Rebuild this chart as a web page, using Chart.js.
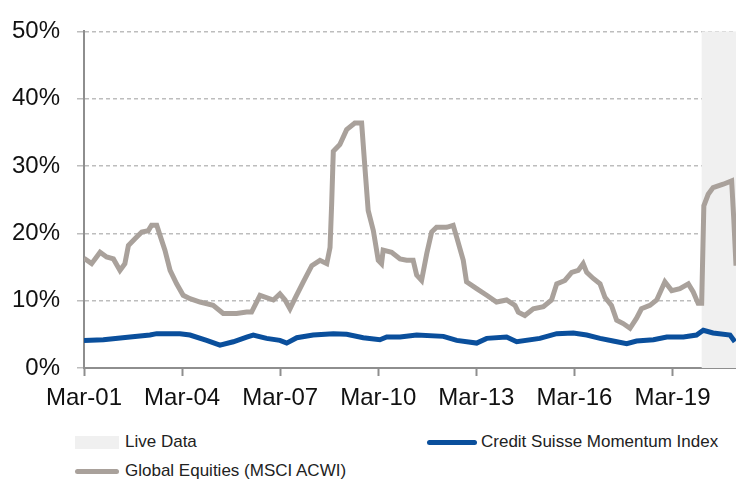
<!DOCTYPE html>
<html>
<head>
<meta charset="utf-8">
<script src="https://cdn.jsdelivr.net/npm/chart.js@4/dist/chart.umd.min.js"></script>
<style>
body{margin:0;background:#fff;font-family:"Liberation Sans",Arial,sans-serif}
#wrap{position:relative;width:736px;height:479px;overflow:hidden}
#box{position:absolute;left:0;top:0;width:736px;height:425px}
.leg{position:absolute;font-size:17px;color:#222;white-space:nowrap;line-height:20px}
.sym{position:absolute;left:0}
.leg span.t{position:absolute;left:50px;top:0}
</style>
</head>
<body>
<div id="wrap">
<div id="box"><canvas id="chart"></canvas></div>
<div class="leg" style="left:75px;top:432px"><div class="sym" style="top:4px;width:44px;height:13px;background:#f0f0f0"></div><span class="t">Live Data</span></div>
<div class="leg" style="left:427px;top:432px"><div class="sym" style="top:8px;width:50px;height:5px;border-radius:3px;background:#0a4f9c"></div><span class="t" style="left:54px">Credit Suisse Momentum Index</span></div>
<div class="leg" style="left:75px;top:461px"><div class="sym" style="top:8px;width:44px;height:5px;border-radius:3px;background:#a9a19b"></div><span class="t">Global Equities (MSCI ACWI)</span></div>
</div>
<script>
// x values are months since Mar-2001
let tickLabels=["Mar-01","Mar-04","Mar-07","Mar-10","Mar-13","Mar-16","Mar-19"]
let liveStart=226.7
let xMax=239.3

let momLabel="Credit Suisse Momentum Index"
let momMonths=[0,7.1,16.9,24.2,26.7,35.2,38.9,45.0,49.9,54.8,59.7,62.1,67.0,71.9,74.4,78.1,84.1,91.5,96.4,102.5,108.6,111.1,116.0,122.1,131.9,136.8,144.1,147.8,155.1,158.8,167.3,173.5,179.6,184.5,189.4,194.2,199.2,202.8,209.0,213.9,220.0,224.8,227.3,230.9,237.1,238.9]
let momValues=[4.1,4.2,4.6,4.9,5.1,5.1,4.9,4.1,3.4,3.9,4.6,4.9,4.4,4.1,3.7,4.5,4.9,5.1,5.0,4.5,4.2,4.6,4.6,4.9,4.7,4.1,3.7,4.4,4.6,3.9,4.4,5.1,5.2,4.9,4.4,4.0,3.6,4.0,4.2,4.6,4.6,4.9,5.6,5.2,4.9,3.9]

let eqLabel="Global Equities (MSCI ACWI)"
let eqMonths=[0,2.8,5.9,8.3,10.8,13.2,15.0,16.3,18.7,21.2,23.6,24.8,26.7,27.9,29.7,31.6,34.0,36.4,38.9,42.6,47.4,51.1,56.0,59.7,61.5,64.6,69.5,71.9,73.8,75.6,77.4,80.5,83.6,86.6,89.1,90.3,90.9,91.5,93.9,96.4,99.4,101.9,103.1,104.3,106.2,108.0,109.2,109.8,112.9,116.0,118.4,120.8,122.1,123.9,125.8,127.6,129.4,133.1,135.5,136.8,139.2,140.4,144.1,147.8,151.4,155.1,158.2,159.4,161.8,164.9,168.6,171.6,173.5,176.5,179.0,181.4,183.2,184.5,186.9,189.4,191.2,193.6,195.5,197.9,200.4,202.8,204.6,207.7,210.2,213.2,215.7,218.7,221.8,223.6,225.4,226.7,227.5,229.1,230.9,234.6,237.7,238.5,239.3]
let eqValues=[16.3,15.5,17.2,16.5,16.2,14.5,15.5,18.2,19.2,20.2,20.4,21.2,21.2,19.7,17.5,14.5,12.5,10.8,10.3,9.8,9.3,8.1,8.1,8.3,8.3,10.8,10.1,11.0,10.1,8.8,10.3,12.8,15.2,16.0,15.5,17.9,24.4,32.2,33.2,35.4,36.4,36.4,29.8,23.4,20.4,16.0,15.5,17.5,17.2,16.2,16.0,16.0,13.8,13.0,17.0,20.2,20.9,20.9,21.2,19.4,16.0,12.8,11.8,10.8,9.8,10.1,9.3,8.3,7.8,8.8,9.1,10.1,12.5,13.0,14.2,14.5,15.5,14.2,13.3,12.5,10.5,9.3,7.1,6.6,5.9,7.4,8.8,9.3,10.1,12.8,11.5,11.8,12.5,11.3,9.6,9.6,24.1,25.8,26.8,27.3,27.8,22.0,15.2]

function pairs(xs,ys){
return xs.map((x,i)=>({x:x,y:ys[i]}))
}

let liveShade={
id:"liveShade",
beforeDatasetsDraw(chart){
let c=chart.ctx
let a=chart.chartArea
let x0=chart.scales.x.getPixelForValue(liveStart)
c.save()
c.fillStyle="#f0f0f0"
c.fillRect(x0,a.top,a.right-x0,a.bottom-a.top)
c.restore()
}
}

let ctx=document.getElementById("chart").getContext("2d")

let chart=new Chart(ctx,{
type:"line",
data:{
datasets:[{
label:momLabel,
data:pairs(momMonths,momValues),
borderColor:"#0a4f9c",
borderWidth:5,
pointRadius:0,
tension:0
},{
label:eqLabel,
data:pairs(eqMonths,eqValues),
borderColor:"#a9a19b",
borderWidth:5,
pointRadius:0,
tension:0
}]
},
options:{
responsive:true,
maintainAspectRatio:false,
animation:false,
layout:{padding:{top:30,right:0,left:0,bottom:0}},
plugins:{legend:{display:false},tooltip:{enabled:false}},
scales:{
x:{
type:"linear",
min:0,
max:xMax,
afterFit(s){s.height=57},
afterBuildTicks(s){s.ticks=tickLabels.map((l,i)=>({value:i*36}))},
ticks:{
autoSkip:false,
maxRotation:0,
padding:8,
color:"#111",
font:{family:"Liberation Sans",size:24},
callback:(v,i)=>tickLabels[i]
},
grid:{drawOnChartArea:false,drawTicks:true,tickLength:8,tickColor:"#8e8e8e",tickWidth:2},
border:{color:"#8e8e8e",width:2}
},
y:{
min:0,
max:50,
afterFit(s){s.width=84},
ticks:{
stepSize:10,
padding:17,
color:"#111",
font:{family:"Liberation Sans",size:24},
callback:v=>v+"%"
},
grid:{color:"#bdbdbd",lineWidth:1.5,tickLength:7,tickColor:"#bdbdbd"},
border:{color:"#8e8e8e",width:2,dash:[4,3]}
}
}
},
plugins:[liveShade]
})
</script>
</body>
</html>
